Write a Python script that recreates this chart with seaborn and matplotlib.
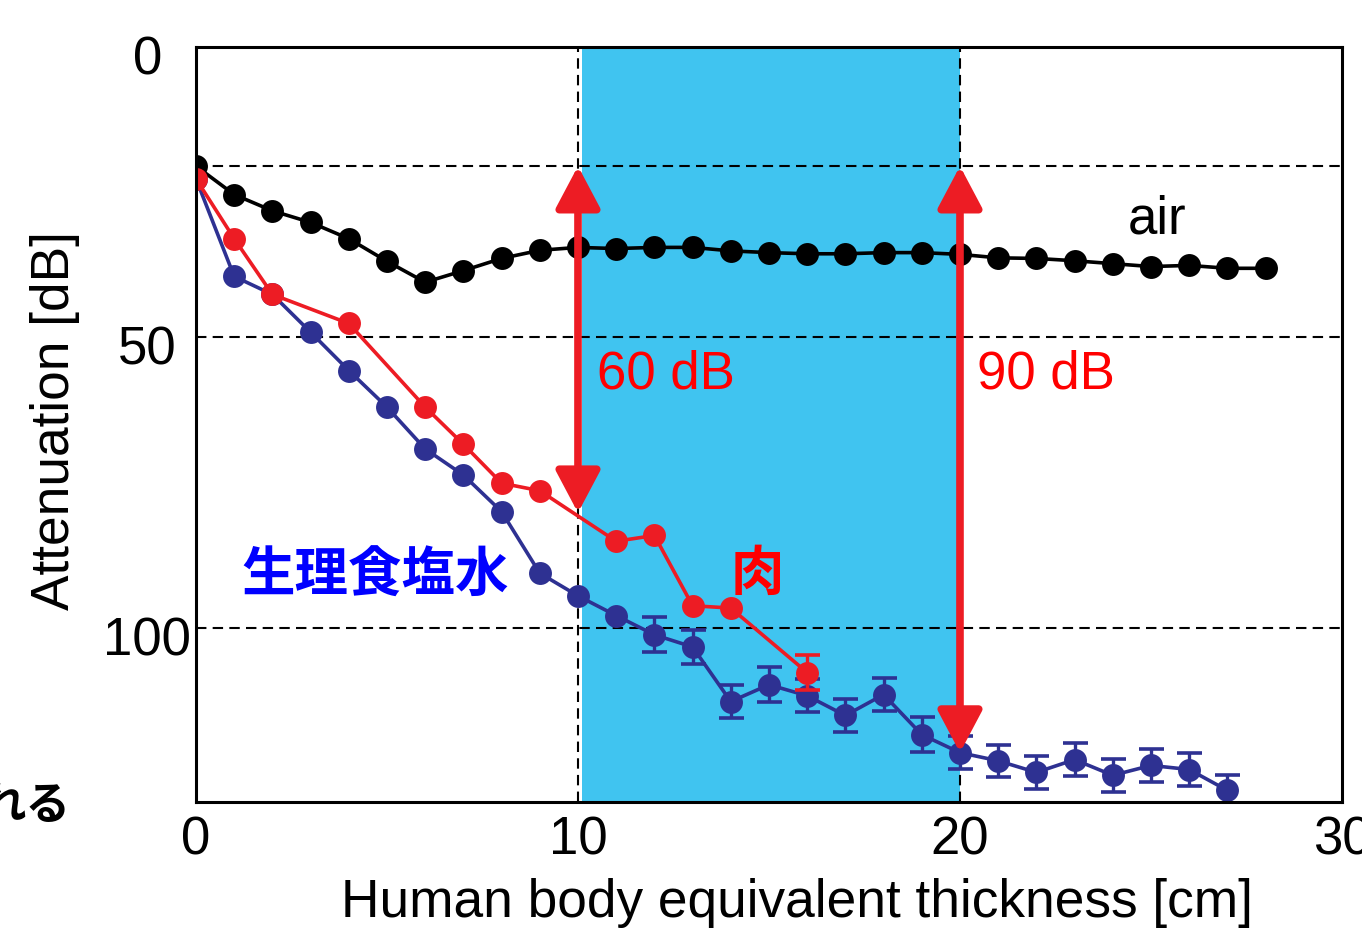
import matplotlib
matplotlib.use("Agg")
import matplotlib.pyplot as plt
import matplotlib.transforms as mtransforms
import seaborn as sns
import numpy as np
import pandas as pd

# ---- data ----
air_x = list(range(0, 29))
air_y = [20.5, 25.4, 28.2, 30.2, 33.0, 36.9, 40.5, 38.5, 36.4, 35.0,
         34.5, 34.7, 34.5, 34.5, 35.1, 35.4, 35.6, 35.6, 35.4, 35.4,
         35.7, 36.3, 36.4, 36.8, 37.3, 37.8, 37.6, 38.1, 38.1]

meat_x = [0, 1, 2, 4, 6, 7, 8, 9, 11, 12, 13, 14, 16]
meat_y = [22.7, 33.0, 42.6, 47.6, 62.0, 68.4, 75.1, 76.4, 85.1, 84.1, 96.2, 96.6, 107.7]
meat_err = [0, 0, 0, 0, 0, 0, 0, 0, 0, 0, 0, 0, 3.0]

saline_x = list(range(0, 28))
saline_y = [22.7, 39.5, 42.6, 49.1, 55.7, 62.0, 69.2, 73.7, 80.0, 90.6,
            94.5, 97.9, 101.2, 103.3, 112.7, 109.8, 111.7, 115.1, 111.5, 118.4,
            121.5, 122.9, 124.9, 122.7, 125.4, 123.7, 124.4, 128.0]
saline_err = [0, 0, 0, 0, 0, 0, 0, 0, 0, 0,
              0, 0, 3.0, 3.0, 2.8, 3.0, 2.8, 2.8, 2.8, 3.0,
              2.8, 2.8, 2.8, 2.8, 2.8, 2.8, 2.8, 2.6]

x_ticks = [0, 10, 20, 30]
y_ticks = [0, 50, 100]
grid_y = [20.5, 50, 100]
grid_x = [10, 20]
span = (10.1, 20)
arrow_60 = (10, 20.5, 80.2)
arrow_90 = (20, 20.5, 121.5)

C_BLUE = "#2E3192"
C_RED = "#ED1C24"
C_BLACK = "#000000"
C_SPAN = "#40C4F0"

sns.set_theme(style="white")
plt.rcParams['font.family'] = ['Liberation Sans', 'DejaVu Sans']
plt.rcParams['text.color'] = 'black'
plt.rcParams['xtick.color'] = 'black'
plt.rcParams['ytick.color'] = 'black'
plt.rcParams['axes.labelcolor'] = 'black'

df = pd.concat([
    pd.DataFrame({"x": saline_x, "y": saline_y, "series": "saline"}),
    pd.DataFrame({"x": air_x, "y": air_y, "series": "air"}),
    pd.DataFrame({"x": meat_x, "y": meat_y, "series": "meat"}),
], ignore_index=True)

fig = plt.figure(figsize=(13.62, 9.29), dpi=100)
ax = fig.add_axes([0.1439, 0.1356, 0.8414, 0.8127])

ax.axvspan(*span, color=C_SPAN, lw=0, zorder=0)
for gy in grid_y:
    ax.axhline(gy, color="black", lw=1.5, ls=(0, (5, 3)), zorder=1)
for gx in grid_x:
    ax.axvline(gx, color="black", lw=1.5, ls=(0, (5, 3)), zorder=1)

# error bars
sx = np.array(saline_x); sy = np.array(saline_y); se = np.array(saline_err)
m = se > 0
ax.errorbar(sx[m], sy[m], yerr=se[m], fmt="none", ecolor=C_BLUE, elinewidth=2.4,
            capsize=9, capthick=2.6, zorder=2)
mx = np.array(meat_x); my = np.array(meat_y); me = np.array(meat_err)
m2 = me > 0
ax.errorbar(mx[m2], my[m2], yerr=me[m2], fmt="none", ecolor=C_RED, elinewidth=2.4,
            capsize=9, capthick=2.6, zorder=4)

sns.lineplot(data=df, x="x", y="y", hue="series",
             hue_order=["saline", "air", "meat"],
             palette={"saline": C_BLUE, "air": C_BLACK, "meat": C_RED},
             marker="o", markersize=16.5, markeredgewidth=0, linewidth=2.6,
             errorbar=None, legend=False, ax=ax, zorder=3)
for ln, z in zip(ax.get_lines()[-3:], [3, 3.2, 3.4]):
    ln.set_zorder(z)

# arrows
for (ax_x, y0, y1) in [arrow_60, arrow_90]:
    ax.annotate("", xy=(ax_x, y1), xytext=(ax_x, y0),
                arrowprops=dict(arrowstyle="<|-|>,head_length=0.85,head_width=0.45",
                                color=C_RED, lw=5.5, shrinkA=0, shrinkB=0,
                                mutation_scale=30),
                zorder=6)

ax.text(10.5, 56.2, "60 dB", color="#FF0000", fontsize=38, va="center", ha="left", zorder=7)
ax.text(20.45, 56.2, "90 dB", color="#FF0000", fontsize=38, va="center", ha="left", zorder=7)
ax.text(25.15, 29.6, "air", color="black", fontsize=38, va="center", ha="center", zorder=7)
ax.text(4.69, 91.0, "生理食塩水", color="#0000FF", fontsize=38.5, fontweight="bold",
        family=["Noto Sans CJK JP", "DejaVu Sans"], va="center", ha="center", zorder=7)
ax.text(14.7, 90.6, "肉", color="#FF0000", fontsize=38.5, fontweight="bold",
        family=["Noto Sans CJK JP", "DejaVu Sans"], va="center", ha="center", zorder=7)

fig.text(70 / 1362, 1 - 806 / 929, "れる", color="black", fontsize=32, fontweight="bold",
         family=["Noto Sans CJK JP", "DejaVu Sans"], ha="right", va="center")

ax.set_xlim(0, 30)
ax.set_ylim(130, 0)
ax.set_xticks(x_ticks)
ax.set_yticks(y_ticks)
ax.set_xticklabels([str(v) for v in x_ticks])
ax.set_yticklabels([str(v) for v in y_ticks])
ax.tick_params(axis="both", labelsize=38, direction="in", length=4, width=1.5,
               color="black", labelcolor="black")
ax.tick_params(axis="x", pad=9)
ax.tick_params(axis="y", pad=35)
offset = mtransforms.ScaledTranslation(0, -7 / 100, fig.dpi_scale_trans)
for lab in ax.get_yticklabels():
    lab.set_ha("center")
    lab.set_transform(lab.get_transform() + offset)
for lab in ax.get_xticklabels():
    lab.set_clip_on(False)

ax.set_xlabel("Human body equivalent thickness [cm]", fontsize=38.3, color="black")
ax.set_ylabel("Attenuation [dB]", fontsize=38.3, color="black")
ax.xaxis.set_label_coords(0.524, -0.132)
ax.xaxis.label.set_va("center")
ax.yaxis.set_label_coords(-0.123, 0.506)
ax.yaxis.label.set_va("center")

for sp in ax.spines.values():
    sp.set_visible(True)
    sp.set_color("black")
    sp.set_linewidth(2.2)
    sp.set_zorder(8)

fig.savefig("out.png", dpi=100, facecolor="white")
